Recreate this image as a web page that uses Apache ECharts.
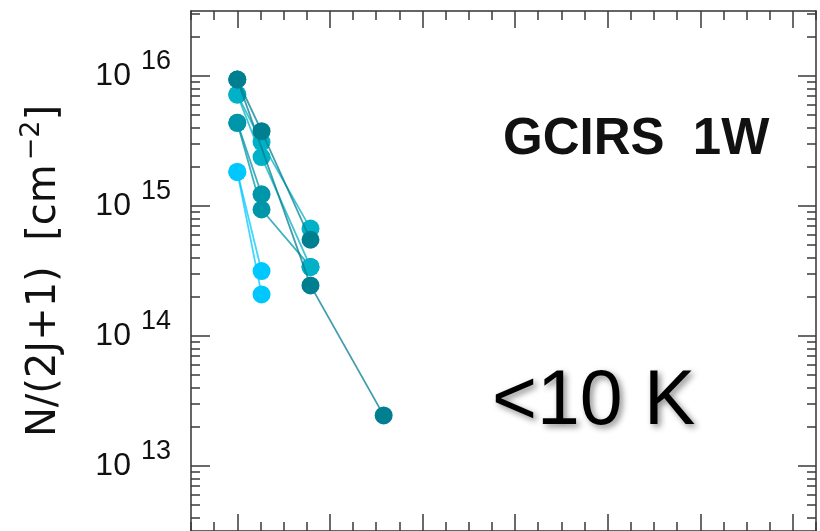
<!DOCTYPE html>
<html><head><meta charset="utf-8">
<script src="https://cdn.jsdelivr.net/npm/echarts@6/dist/echarts.min.js"></script>
<style>html,body{margin:0;padding:0;background:#fff}#c{width:820px;height:531px}</style>
</head><body><div id="c"></div>
<script>
// Upper level energy (K) of the J = 0,1,2,3 levels
const levelEnergyK = [0, 5.5, 16.6, 33.2];
// N/(2J+1) [cm^-2] per velocity component, aligned with levelEnergyK
const lightA = [1.83e15, 3.16e14, null, null];
const lightB = [1.83e15, 2.09e14, null, null];
const tealA  = [4.36e15, 1.23e15, null, null];
const tealB  = [4.36e15, 9.4e14, 3.4e14, null];
const cyanA  = [7.2e15, 3.1e15, 6.7e14, null];
const cyanB  = [7.2e15, 2.38e15, 3.4e14, null];
const darkA  = [9.4e15, 3.76e15, 5.5e14, null];
const darkB  = [9.4e15, null, 2.45e14, 2.45e13];
const seriesNames = ['lightA','lightB','tealA','tealB','cyanA','cyanB','darkA','darkB'];
const seriesValues = [lightA, lightB, tealA, tealB, cyanA, cyanB, darkA, darkB];
const seriesColors = ['#00c8fe','#00c8fe','#0096aa','#0096aa','#00b1c7','#00b1c7','#007f90','#007f90'];
// tick labels / ticks
const yMajorTicks = [1e13, 1e14, 1e15, 1e16];
const xMajorTicks = [0, 21, 42, 63, 84, 105, 126];
const xMin = -10.5, xMax = 131.25, xMinorStep = 5.25;
const yMinExp = 12.5, yMaxExp = 16.5;

const xMinorTicks = [];
for (let v = xMin; v <= xMax + 1e-9; v += xMinorStep) xMinorTicks.push(+v.toFixed(4));
const yMinorTicks = [];
for (let e = 12; e <= 16; e++) for (let k = 2; k <= 9; k++) {
  const v = k * Math.pow(10, e);
  if (Math.log10(v) > yMinExp && Math.log10(v) < yMaxExp) yMinorTicks.push(v);
}
const yMin = Math.pow(10, yMinExp), yMax = Math.pow(10, yMaxExp);
const tickColor = '#3a3a3a';

function xAx(pos, vals, len, line) {
  return {type: 'value', position: pos, min: xMin, max: xMax,
    axisLine: {show: line, onZero: false, lineStyle: {color: '#333', width: 1.5}},
    axisTick: {show: true, inside: true, length: len, customValues: vals, lineStyle: {color: tickColor, width: 1.5}},
    axisLabel: {show: false}, splitLine: {show: false}};
}
function yAx(pos, vals, len, line, labels) {
  const ax = {type: 'log', logBase: 10, position: pos, min: yMin, max: yMax,
    axisLine: {show: line, onZero: false, lineStyle: {color: '#333', width: 1.5}},
    axisTick: {show: true, inside: true, length: len, customValues: vals, lineStyle: {color: tickColor, width: 1.5}},
    axisLabel: {show: false}, splitLine: {show: false}, minorTick: {show: false}};
  if (labels) {
    ax.axisLabel = {show: true, customValues: yMajorTicks, margin: 20,
      formatter: v => '{a|10}{b|' + Math.round(Math.log10(v)) + '}',
      rich: {
        a: {fontFamily: 'Liberation Sans', fontSize: 32, color: '#111', lineHeight: 32, verticalAlign: 'bottom'},
        b: {fontFamily: 'Liberation Sans', fontSize: 27, color: '#111', lineHeight: 27, verticalAlign: 'bottom', padding: [0, 0, 17, 10]}
      }};
    ax.name = '{n|N/(2J+1)  [cm}{s|\u22122}{n|]}';
    ax.nameLocation = 'middle';
    ax.nameRotate = 90;
    ax.nameGap = 126;
    ax.nameTextStyle = {rich: {
      n: {fontFamily: 'DejaVu Sans', fontSize: 40, color: '#111', lineHeight: 44, verticalAlign: 'bottom'},
      s: {fontFamily: 'DejaVu Sans', fontSize: 27, color: '#111', lineHeight: 27, verticalAlign: 'bottom', padding: [0, 0, 20, 4]}
    }};
  }
  return ax;
}

const chart = echarts.init(document.getElementById('c'), null, {renderer: 'canvas'});
chart.setOption({
  animation: false,
  backgroundColor: '#ffffff',
  grid: {left: 191, top: 11, right: 4, bottom: 0, containLabel: false},
  xAxis: [xAx('bottom', xMajorTicks, 17, true), xAx('bottom', xMinorTicks, 9, false),
          xAx('top', xMajorTicks, 17, true), xAx('top', xMinorTicks, 9, false)],
  yAxis: [yAx('left', yMajorTicks, 19, true, true), yAx('left', yMinorTicks, 9, false, false),
          yAx('right', yMajorTicks, 18, true, false), yAx('right', yMinorTicks, 9, false, false)],
  series: seriesNames.map((name, i) => ({
    name: name, type: 'line', xAxisIndex: 0, yAxisIndex: 0,
    data: levelEnergyK.map((e, j) => [e, seriesValues[i][j]]).filter(p => p[1] != null),
    symbol: 'circle', symbolSize: 18, showSymbol: true,
    itemStyle: {color: seriesColors[i], opacity: 1},
    lineStyle: {color: seriesColors[i], width: 1.8, opacity: 0.75},
    z: 2 + i
  })),
  graphic: [
    {type: 'text', x: 503, y: 140, z: 10, style: {text: 'GCIRS  1W', fill: '#111',
      font: 'bold 51px "Liberation Sans"', textVerticalAlign: 'middle'}},
    {type: 'text', x: 492, y: 403, z: 10, style: {text: '<10 K', fill: '#000',
      font: 'normal 77px "Liberation Sans"', textVerticalAlign: 'middle',
      textShadowColor: 'rgba(0,0,0,0.45)', textShadowBlur: 6, textShadowOffsetX: 3, textShadowOffsetY: 3,
      shadowColor: 'rgba(0,0,0,0.45)', shadowBlur: 6, shadowOffsetX: 3, shadowOffsetY: 3}}
  ]
});
</script></body></html>
